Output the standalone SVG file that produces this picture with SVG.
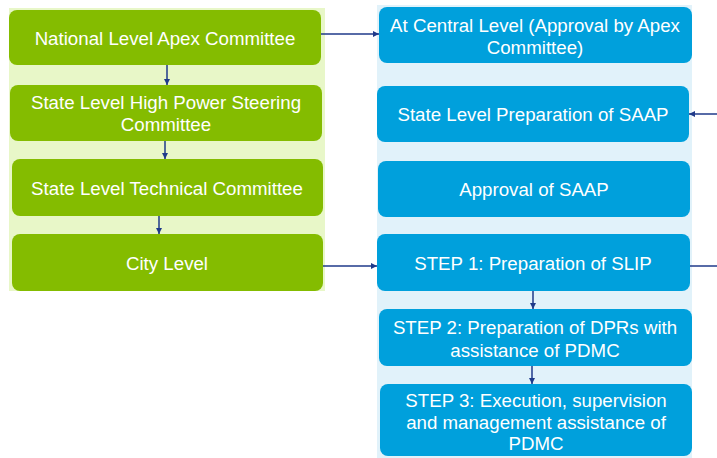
<svg xmlns="http://www.w3.org/2000/svg" width="717" height="458" viewBox="0 0 717 458">
<defs>
<style>
.g{fill:#84bc00}
.b{fill:#00a0dc}
.t{fill:#ffffff;font-family:"Liberation Sans",Arial,sans-serif;font-size:18.7px;text-anchor:middle}
.c{stroke:#1f3a8a;stroke-width:1.5;fill:none}
</style>
<marker id="ah" viewBox="0 0 10 10" refX="10" refY="5" markerWidth="6" markerHeight="6" orient="auto" markerUnits="userSpaceOnUse">
<path d="M0,0 L10,5 L0,10 z" fill="#1f3a8a"/>
</marker>
</defs>
<rect width="717" height="458" fill="#ffffff"/>
<rect x="9" y="8" width="316" height="283" fill="#e8f7c8"/>
<rect x="377" y="5" width="315" height="453" fill="#e1f2fa"/>
<g id="n1"><rect class="g" x="9" y="10" width="312" height="55" rx="8"/><text class="t" x="165" y="44.5">National Level Apex Committee</text></g>
<g id="n2"><rect class="g" x="10" y="85" width="312" height="56" rx="8"/><text class="t" x="166" y="108.5">State Level High Power Steering</text><text class="t" x="166" y="130.5">Committee</text></g>
<g id="n3"><rect class="g" x="12" y="159" width="311" height="57" rx="8"/><text class="t" x="167" y="194.5">State Level Technical Committee</text></g>
<g id="n4"><rect class="g" x="12" y="234" width="311" height="57" rx="8"/><text class="t" x="167" y="269.5">City Level</text></g>
<g id="m1"><rect class="b" x="379" y="7" width="313" height="56" rx="8"/><text class="t" x="535" y="31.5">At Central Level (Approval by Apex</text><text class="t" x="535" y="53.5">Committee)</text></g>
<g id="m2"><rect class="b" x="377" y="86" width="312" height="56" rx="8"/><text class="t" x="533" y="120.5">State Level Preparation of SAAP</text></g>
<g id="m3"><rect class="b" x="378" y="161" width="312" height="56" rx="8"/><text class="t" x="534" y="195.5">Approval of SAAP</text></g>
<g id="m4"><rect class="b" x="377" y="234" width="313" height="57" rx="8"/><text class="t" x="533" y="269.5">STEP 1: Preparation of SLIP</text></g>
<g id="m5"><rect class="b" x="379" y="309" width="313" height="57" rx="8"/><text class="t" x="535" y="333.5">STEP 2: Preparation of DPRs with</text><text class="t" x="535" y="356.5">assistance of PDMC</text></g>
<g id="m6"><rect class="b" x="380" y="384" width="312" height="72" rx="8"/><text class="t" x="536" y="406.5">STEP 3: Execution, supervision</text><text class="t" x="536" y="428.5">and management assistance of</text><text class="t" x="536" y="449.5">PDMC</text></g>
<g id="connectors">
<path class="c" d="M167,65 V85" marker-end="url(#ah)"/>
<path class="c" d="M165,141 V159" marker-end="url(#ah)"/>
<path class="c" d="M159,216 V234" marker-end="url(#ah)"/>
<path class="c" d="M321,34 H379" marker-end="url(#ah)"/>
<path class="c" d="M717,114 H689" marker-end="url(#ah)"/>
<path class="c" d="M323,266 H377" marker-end="url(#ah)"/>
<path class="c" d="M690,266 H717"/>
<path class="c" d="M533,291 V309" marker-end="url(#ah)"/>
<path class="c" d="M532,366 V384" marker-end="url(#ah)"/>
</g>
</svg>
